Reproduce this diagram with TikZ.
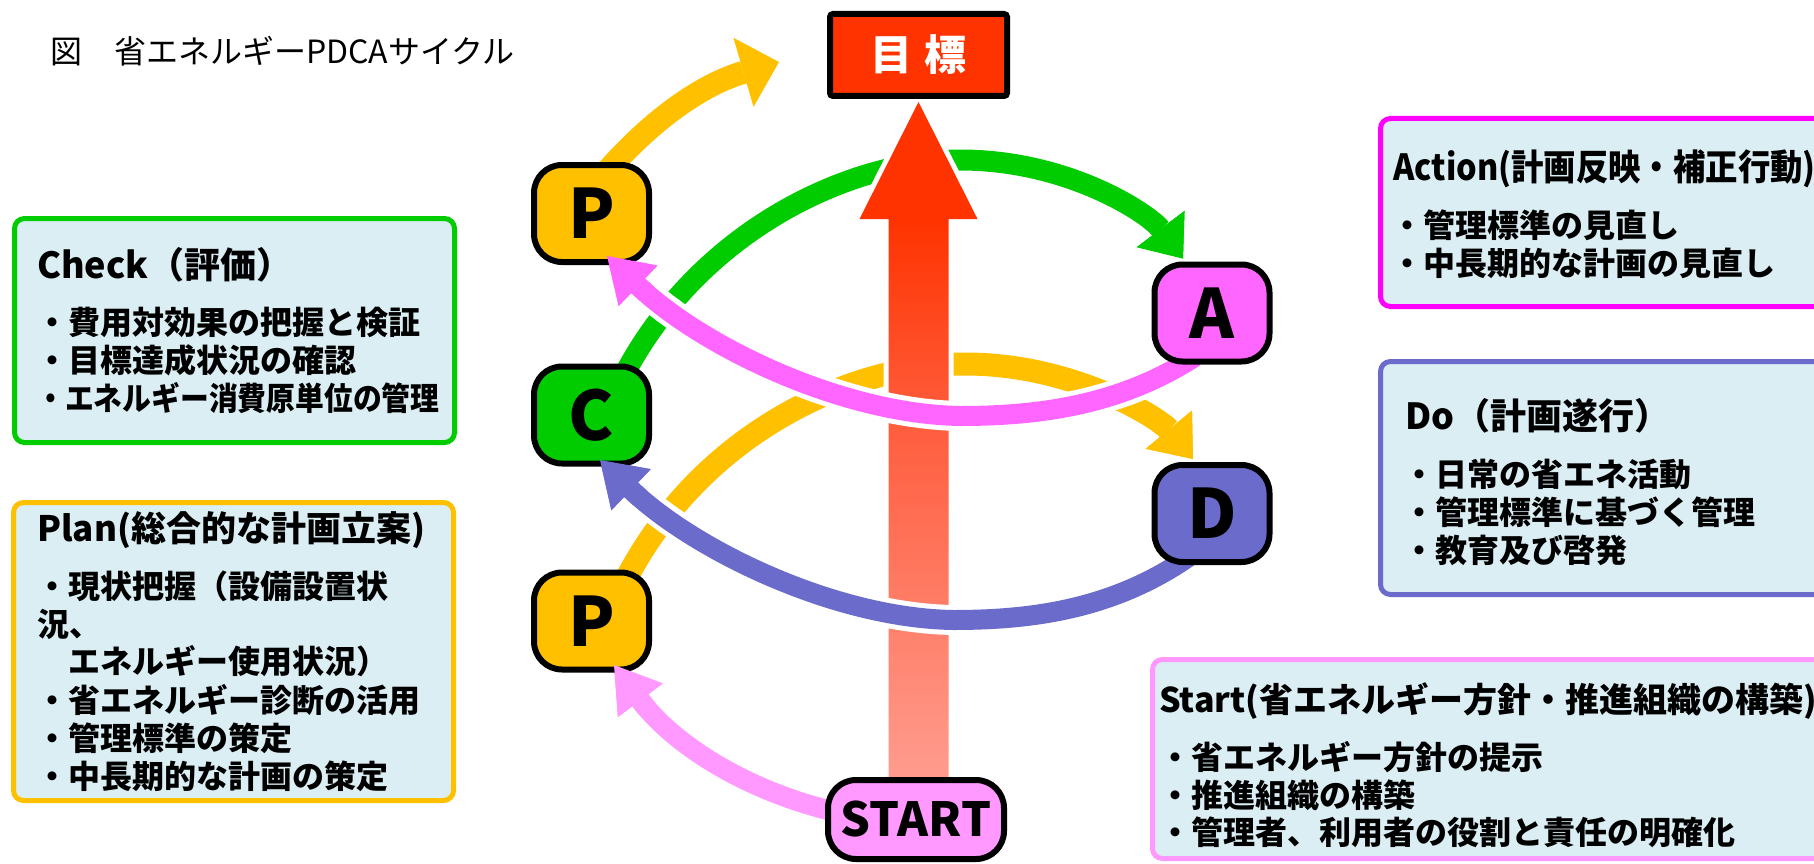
\documentclass[tikz,border=0pt]{standalone}
\usepackage{fontspec}
\usepackage{graphicx}
\setmainfont{Noto Sans CJK JP}
\usetikzlibrary{arrows.meta,calc}
\definecolor{cyel}{HTML}{FFC000}
\definecolor{cgrn}{HTML}{00CC00}
\definecolor{cmag}{HTML}{FF66FF}
\definecolor{cmagB}{HTML}{FF00FF}
\definecolor{cblu}{HTML}{6B6BCC}
\definecolor{cpink}{HTML}{FF99FF}
\definecolor{cred}{HTML}{FF3300}
\definecolor{cpanel}{HTML}{DAEEF3}
\definecolor{shA}{HTML}{FDE3DE}
\definecolor{shB}{HTML}{FFA59A}
\definecolor{shC}{HTML}{FF5C3C}
\pgfdeclareverticalshading{redshaft}{100bp}{color(0bp)=(shA); color(22.6bp)=(shB); color(52.2bp)=(shC); color(66.6bp)=(cred); color(100bp)=(cred)}
\pgfdeclarelayer{arcs}
\pgfsetlayers{arcs,main}
\newcommand\fsz[1]{\fontsize{#1}{#1}\selectfont}
\tikzset{
  lett/.style={draw=black, line width=6pt, rounded corners=28pt, minimum width=115pt, minimum height=97pt, inner sep=0pt, font={\bfseries\fsz{68}}, fill=#1},
  goalbox/.style={draw=black, line width=6pt, rounded corners=3pt, fill=cred, minimum width=177pt, minimum height=82pt, inner sep=0pt, text=white, font={\bfseries\fsz{42}}},
  panel/.style={draw=#1, line width=5pt, fill=cpanel, rounded corners=10pt, inner sep=0pt},
  ttl/.style={anchor=base west, inner sep=0pt, font={\bfseries\fsz{36}}},
  txt/.style={anchor=base west, inner sep=0pt, font={\bfseries\fsz{32}}},
  arcbase/.style={shorten <=-14pt, line cap=butt},
  arcYt/.style={arcbase, draw=cyel, line width=23pt, -{Triangle[width=72pt,length=37pt,line width=0pt]}},
  arcG/.style={arcbase, draw=cgrn, line width=21pt, -{Triangle[width=60pt,length=37pt,line width=0pt]}},
  arcYl/.style={arcbase, draw=cyel, line width=23pt, -{Triangle[width=60pt,length=38pt,line width=0pt]}},
  arcM/.style={arcbase, draw=cmag, line width=20pt, -{Triangle[width=56pt,length=43pt,line width=0pt]}},
  arcB/.style={arcbase, draw=cblu, line width=20pt, -{Triangle[width=57pt,length=43pt,line width=0pt]}},
  arcP/.style={arcbase, draw=cpink, line width=20pt, -{Triangle[width=56pt,length=44pt,line width=0pt]}},
  halo/.style={draw=white, line width=#1, shorten <=-14pt, shorten >=40pt},
  pYtop/.style={insert path={([xshift=23.5pt]P1.north) .. controls (650,122) and (700,85) .. (ytip)}},
  pGrn/.style={insert path={([xshift=38.5pt]C.north) .. controls (700,230) and (850,160) .. (960,160) .. controls (1070,160) and (1150,215) .. ([xshift=-29pt,yshift=3pt]A.north)}},
  pYlow/.style={insert path={([xshift=39.5pt]P2.north) .. controls (700,434) and (850,364) .. (965,364) .. controls (1075,364) and (1160,419) .. ([xshift=-19pt,yshift=3pt]D.north)}},
  pMag/.style={insert path={([xshift=-29pt]A.south) .. controls (1120,405) and (1040,416) .. (960,416) .. controls (840,414) and (700,345) .. ([xshift=15.5pt,yshift=9pt]P1.south)}},
  pBlu/.style={insert path={([xshift=-35pt]D.south) .. controls (1113,609) and (1033,620) .. (953,620) .. controls (833,618) and (693,549) .. ([xshift=8.5pt,yshift=6.5pt]C.south)}},
  pPnk/.style={insert path={([yshift=10pt]START.west) .. controls (740,790) and (670,740) .. ([xshift=22.5pt,yshift=7.5pt]P2.south)}},
  pRed/.style={insert path={([yshift=-3pt]goal.south) -- ([xshift=59pt,yshift=-120pt]goal.south) -- ([xshift=30pt,yshift=-120pt]goal.south) -- ($(goal.south |- START.north)+(30,20)$) -- ($(goal.south |- START.north)+(-30,20)$) -- ([xshift=-30pt,yshift=-120pt]goal.south) -- ([xshift=-59pt,yshift=-120pt]goal.south) -- cycle}}
}
\begin{document}
\begin{tikzpicture}[x=1pt,y=-1pt]
\useasboundingbox (0,0) rectangle (1814,864);
\clip (0,0) rectangle (1814,864);

% title
\node[anchor=base west, inner sep=0pt, font=\fsz{32}] (title) at (50,64) {図　省エネルギーPDCAサイクル};

% panels
\node[panel=cgrn, minimum width=440pt, minimum height=224pt] (chk) at (234.5,330.5) {};
\node[panel=cyel, minimum width=440pt, minimum height=298pt] (pln) at (233.5,651.5) {};
\node[panel=cmagB, minimum width=477pt, minimum height=188pt] (act) at (1619,212.5) {};
\node[panel=cblu, minimum width=477pt, minimum height=233pt] (dox) at (1619,478) {};
\node[panel=cpink, minimum width=705pt, minimum height=199pt] (stb) at (1505,759) {};

% panel texts
\node[ttl] (ct) at (37,278) {Check（評価）};
\node[txt] (c1) at (36,334) {・費用対効果の把握と検証};
\node[txt] (c2) at (36,372) {・目標達成状況の確認};
\node[txt] (c3) at (36,410) {\scalebox{0.9}[1]{・エネルギー消費原単位の管理}};

\node[ttl, font={\bfseries\fsz{35}}] (pt) at (37,541) {Plan(総合的な計画立案)};
\node[txt] (p1) at (36,598) {・現状把握（設備設置状};
\node[txt] (p2) at (37,636) {況、};
\node[txt] (p3) at (36,673) {　エネルギー使用状況）};
\node[txt] (p4) at (36,712) {・省エネルギー診断の活用};
\node[txt] (p5) at (36,750) {・管理標準の策定};
\node[txt] (p6) at (36,788) {・中長期的な計画の策定};

\node[ttl] (at) at (1393,180) {\scalebox{0.9}[1]{Action(計画反映・補正行動)}};
\node[txt] (a1) at (1391,237) {・管理標準の見直し};
\node[txt] (a2) at (1391,275) {・中長期的な計画の見直し};

\node[ttl] (dt) at (1405,429) {Do（計画遂行）};
\node[txt] (d1) at (1403,486) {・日常の省エネ活動};
\node[txt] (d2) at (1403,524) {・管理標準に基づく管理};
\node[txt] (d3) at (1403,562) {・教育及び啓発};

\node[ttl, font={\bfseries\fsz{34}}] (st) at (1159,712) {Start(省エネルギー方針・推進組織の構築)};
\node[txt] (s1) at (1159,769) {・省エネルギー方針の提示};
\node[txt] (s2) at (1159,807) {・推進組織の構築};
\node[txt] (s3) at (1159,844) {・管理者、利用者の役割と責任の明確化};

% cycle nodes
\node[goalbox] (goal) at (918.5,55) {目\hspace{12pt}標};
\node[lett=cyel] (P1) at (591.5,213.5) {P};
\node[lett=cgrn] (C) at (591.5,415) {C};
\node[lett=cyel] (P2) at (591.5,621) {P};
\node[lett=cmag] (A) at (1212,313) {A};
\node[lett=cblu] (D) at (1212,513.5) {D};
\node[lett=cpink, minimum width=176pt, minimum height=79pt, font={\bfseries\fsz{47}}] (START) at (916,819.5) {START};
\coordinate (ytip) at (779,62);

\begin{pgfonlayer}{arcs}
\draw[arcYt, pYtop];
\draw[arcG, pGrn];
\draw[arcYl, pYlow];
\draw[white, line width=10pt, line join=miter, pRed];
\shade[shading=redshaft, pRed];
\draw[halo=30pt, pMag];
\draw[arcM, pMag];
\draw[halo=30pt, pBlu];
\draw[arcB, pBlu];
\draw[arcP, pPnk];
\end{pgfonlayer}

% arrow heads over the boxes
\begin{scope}
\clip ([xshift=15.5pt,yshift=9pt]P1.south) circle (56pt);
\draw[arcM, pMag];
\end{scope}
\begin{scope}
\clip ([xshift=8.5pt,yshift=6.5pt]C.south) circle (56pt);
\draw[arcB, pBlu];
\end{scope}
\begin{scope}
\clip ([xshift=22.5pt,yshift=7.5pt]P2.south) circle (56pt);
\draw[arcP, pPnk];
\end{scope}
\begin{scope}
\clip ([xshift=-29pt,yshift=3pt]A.north) circle (50pt);
\draw[arcG, pGrn];
\end{scope}
\begin{scope}
\clip ([xshift=-19pt,yshift=3pt]D.north) circle (50pt);
\draw[arcYl, pYlow];
\end{scope}
\end{tikzpicture}
\end{document}
